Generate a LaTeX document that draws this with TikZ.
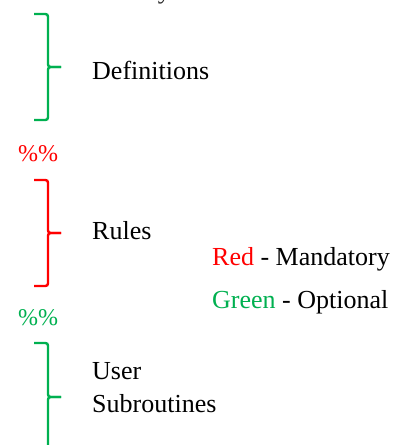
\documentclass[tikz,border=0pt]{standalone}
\usepackage{fontspec}
\setmainfont{Liberation Serif}
\definecolor{optgreen}{HTML}{00B050}
\definecolor{mandred}{HTML}{FF0000}
\begin{document}
\begin{tikzpicture}[x=1pt,y=-1pt,
  brace/.style={line width=2.4pt, rounded corners=2.5pt},
  lbl/.style={font=\fontsize{26}{30}\selectfont, inner sep=0pt, anchor=base west},
  pct/.style={font=\fontsize{24}{28}\selectfont, inner sep=0pt, anchor=base west}]
\useasboundingbox (0,0) rectangle (398,445);
\begin{scope}
\clip (0,0) rectangle (398,445);
% clipped heading line at the very top
\node[lbl, anchor=base east, text=black!85] (head) at (171,-2) {The sections are mandatory};
\node[lbl, anchor=base west, text=black!85] (head2) at (head.base east) {\ to be followed.};
% Definitions brace (green)
\draw[brace, optgreen] (34,14) -- (48,14) -- (48,67) -- (61,67);
\draw[brace, optgreen] (34,120) -- (48,120) -- (48,67) -- (61,67);
\node[lbl] (defs) at (92,79) {Definitions};
% %% red
\node[pct, text=mandred] (sep1) at (18,161) {\%\%};
% Rules brace (red)
\draw[brace, mandred] (34,180) -- (48,180) -- (48,233) -- (61,233);
\draw[brace, mandred] (34,286) -- (48,286) -- (48,233) -- (61,233);
\node[lbl] (rules) at (92,239) {Rules};
% legend
\node[lbl] (legred) at (212,265) {\textcolor{mandred}{Red} - Mandatory};
\node[lbl] (leggreen) at (212,308) {\textcolor{optgreen}{Green} - Optional};
% %% green
\node[pct, text=optgreen] (sep2) at (18,325) {\%\%};
% User subroutines brace (green)
\draw[brace, optgreen] (34,343) -- (48,343) -- (48,397) -- (61,397);
\draw[brace, optgreen] (48,460) -- (48,397) -- (61,397);
\node[lbl] (user) at (92,379) {User};
\node[lbl] (subr) at (92,412) {Subroutines};
\end{scope}
\end{tikzpicture}
\end{document}
